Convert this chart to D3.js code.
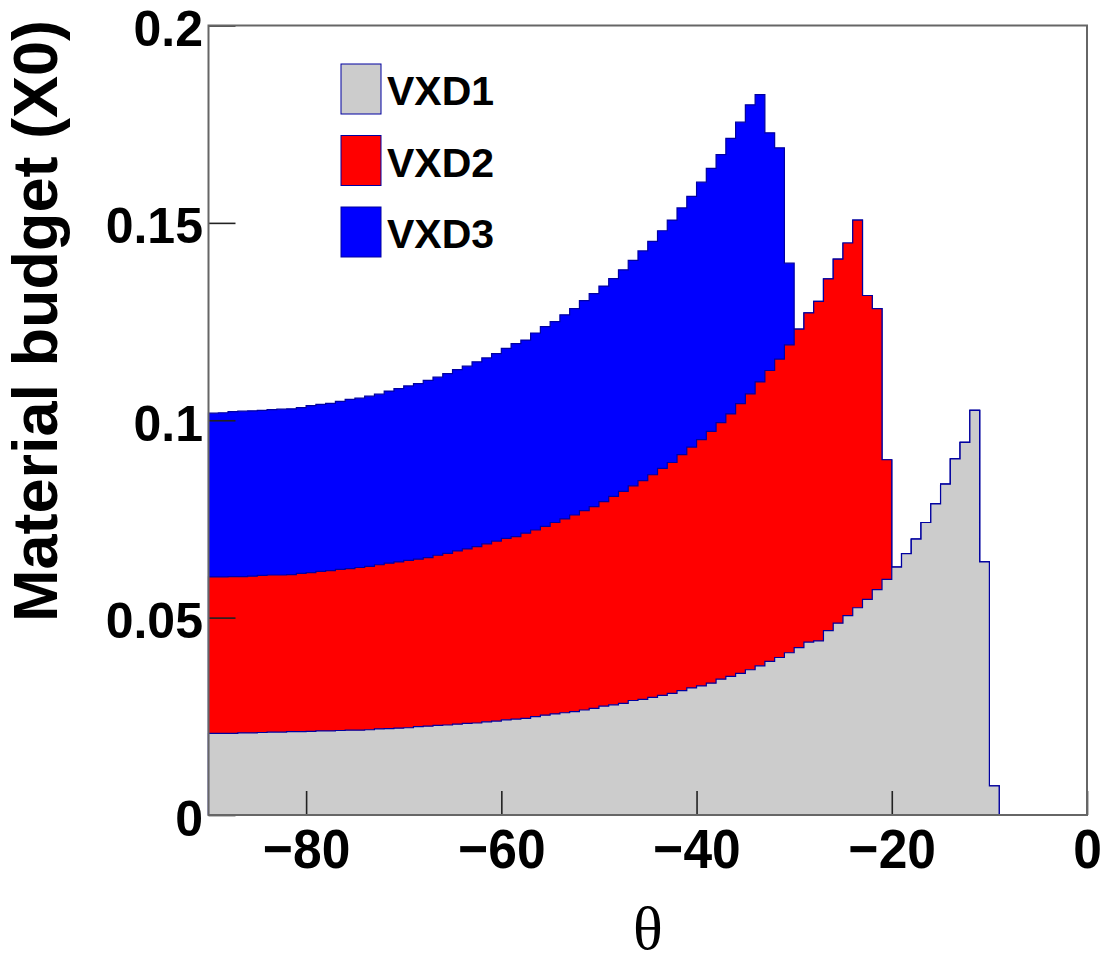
<!DOCTYPE html>
<html>
<head>
<meta charset="utf-8">
<script src="https://cdn.jsdelivr.net/npm/d3@7"></script>
<style>
body { margin: 0; background: #fff; }
svg text { font-family: "Liberation Sans", Arial, sans-serif; font-weight: bold; fill: #000; }
</style>
</head>
<body>
<div id="chart"></div>
<script>
// series names and fill colours (drawn as a stack, VXD1 at the bottom)
var names = ["VXD1", "VXD2", "VXD3"];
var colors = ["#cccccc", "#ff0000", "#0000ff"];

// theta bins: 1 degree wide, low edges -90 ... -1
var thetaMin = -90, thetaMax = 0;
var binLow = d3.range(thetaMin, thetaMax, 1);

// material budget per bin (X0)
var vxd1 = [0.0207,0.0207,0.0207,0.0208,0.0208,0.0209,0.0210,0.0210,0.0211,0.0211,
            0.0212,0.0213,0.0213,0.0214,0.0215,0.0215,0.0216,0.0218,0.0219,0.0220,
            0.0221,0.0224,0.0225,0.0227,0.0228,0.0230,0.0232,0.0233,0.0236,0.0238,
            0.0241,0.0243,0.0245,0.0249,0.0253,0.0256,0.0259,0.0262,0.0266,0.0270,
            0.0276,0.0279,0.0283,0.0290,0.0293,0.0298,0.0303,0.0308,0.0315,0.0322,
            0.0327,0.0334,0.0344,0.0351,0.0359,0.0368,0.0378,0.0389,0.0399,0.0411,
            0.0424,0.0438,0.0441,0.0467,0.0486,0.0505,0.0525,0.0546,0.0571,0.0597,
            0.0628,0.0662,0.0699,0.0741,0.0788,0.0838,0.0902,0.0944,0.1025,0.0641,
            0.0074,0,0,0,0,0,0,0,0,0];
var vxd2 = [0.0396,0.0396,0.0397,0.0396,0.0397,0.0398,0.0398,0.0398,0.0398,0.0401,
            0.0402,0.0404,0.0406,0.0408,0.0409,0.0412,0.0414,0.0416,0.0419,0.0421,
            0.0424,0.0424,0.0427,0.0431,0.0435,0.0439,0.0442,0.0447,0.0451,0.0456,
            0.0460,0.0462,0.0469,0.0473,0.0478,0.0485,0.0491,0.0498,0.0505,0.0511,
            0.0518,0.0528,0.0537,0.0544,0.0554,0.0564,0.0575,0.0585,0.0598,0.0610,
            0.0624,0.0638,0.0650,0.0665,0.0683,0.0699,0.0719,0.0737,0.0756,0.0780,
            0.0807,0.0834,0.0860,0.0891,0.0922,0.0944,0.0982,0.0770,0.0712,0.0303,
            0,0,0,0,0,0,0,0,0,0,
            0,0,0,0,0,0,0,0,0,0];
var vxd3 = [0.0415,0.0416,0.0418,0.0419,0.0419,0.0418,0.0419,0.0420,0.0420,0.0420,
            0.0423,0.0423,0.0424,0.0426,0.0429,0.0429,0.0431,0.0432,0.0436,0.0439,
            0.0442,0.0445,0.0449,0.0451,0.0455,0.0459,0.0463,0.0468,0.0471,0.0475,
            0.0481,0.0489,0.0489,0.0499,0.0506,0.0509,0.0517,0.0523,0.0532,0.0540,
            0.0546,0.0552,0.0561,0.0571,0.0582,0.0591,0.0602,0.0614,0.0625,0.0635,
            0.0652,0.0666,0.0679,0.0698,0.0713,0.0732,0.0728,0.0602,0.0535,0.0207,
            0,0,0,0,0,0,0,0,0,0,
            0,0,0,0,0,0,0,0,0,0,
            0,0,0,0,0,0,0,0,0,0];

// axis ticks
var xMajor = [-80, -60, -40, -20, 0];
var xMinor = d3.range(-85, 0, 5);
var yMajor = [0, 0.05, 0.1, 0.15, 0.2];
var yMinor = d3.range(0, 0.2001, 0.01);

var xTitle = "\u03b8";
var yTitle = "Material budget (X0)";

// ---- layout
var W = 1106, H = 963;
var frame = {left: 208.5, right: 1087, top: 25.5, bottom: 815};
var lineColor = "#0000a0";

var scalex = d3.scaleLinear().domain([thetaMin, thetaMax]).range([frame.left, frame.right]);
var scaley = d3.scaleLinear().domain([0, 0.2]).range([frame.bottom, frame.top]);

var svg = d3.select("#chart").append("svg")
    .attr("width", W)
    .attr("height", H);

var rows = binLow.map(function (b, i) {
    return {low: b, VXD1: vxd1[i], VXD2: vxd2[i], VXD3: vxd3[i]};
});
var stacked = d3.stack().keys(names)(rows);

// histogram outline as step points (cumulative top of each layer)
function stepPoints(layer) {
    var pts = [[thetaMin, 0]];
    layer.forEach(function (d) { pts.push([d.data.low, d[1]]); });
    pts.push([thetaMax, layer[layer.length - 1][1]]);
    pts.push([thetaMax, 0]);
    return pts;
}

var valueline = d3.line()
    .x(function (d) { return scalex(d[0]); })
    .y(function (d) { return scaley(d[1]); })
    .curve(d3.curveStepAfter);

// THStack style: total first, then the lower sums over it
for (var i = stacked.length - 1; i >= 0; i--) {
    svg.append("path")
        .datum(stepPoints(stacked[i]))
        .attr("d", valueline)
        .attr("fill", colors[i])
        .attr("stroke", lineColor)
        .attr("stroke-width", 1.2)
        .attr("stroke-linejoin", "miter");
}

// ---- x axis (ticks point into the frame)
var gx = svg.append("g").attr("transform", "translate(0," + frame.bottom + ")");
gx.call(d3.axisBottom(scalex).tickValues(xMinor).tickSize(-12).tickFormat(""));
gx.call(d3.axisBottom(scalex).tickValues(xMajor).tickSize(-24)
    .tickFormat(function (d) { return d < 0 ? "\u2212" + Math.abs(d) : String(d); }));
gx.selectAll(".domain").remove();
gx.selectAll("line").attr("stroke", "#222").attr("stroke-width", 1.6);
gx.selectAll("text")
    .attr("y", 53)
    .attr("dy", 0)
    .attr("transform", "scale(0.92,1)")
    .style("font-size", "56px")
    .style("font-family", "'Liberation Sans', Arial, sans-serif")
    .style("font-weight", "bold");

// ---- y axis
var gy = svg.append("g").attr("transform", "translate(" + frame.left + ",0)");
gy.call(d3.axisLeft(scaley).tickValues(yMinor).tickSize(-13).tickFormat(""));
gy.call(d3.axisLeft(scaley).tickValues(yMajor).tickSize(-27).tickPadding(5.5)
    .tickFormat(function (d) { return d === 0 ? "0" : String(+d.toFixed(2)); }));
gy.selectAll(".domain").remove();
gy.selectAll("line").attr("stroke", "#222").attr("stroke-width", 1.6);
gy.selectAll("text")
    .attr("dy", "0.4em")
    .style("font-size", "50px")
    .style("font-family", "'Liberation Sans', Arial, sans-serif")
    .style("font-weight", "bold");

// frame
svg.append("rect")
    .attr("x", frame.left)
    .attr("y", frame.top)
    .attr("width", frame.right - frame.left)
    .attr("height", frame.bottom - frame.top)
    .attr("fill", "none")
    .attr("stroke", "#666")
    .attr("stroke-width", 2);

// ---- titles
svg.append("text")
    .attr("transform", "translate(57,20) rotate(-90)")
    .attr("text-anchor", "end")
    .style("font-size", "63px")
    .text(yTitle);

svg.append("text")
    .attr("x", (frame.left + frame.right) / 2)
    .attr("y", 949)
    .attr("text-anchor", "middle")
    .style("font-family", "'Liberation Serif', 'Times New Roman', serif")
    .style("font-weight", "normal")
    .style("font-size", "62px")
    .text(xTitle);

// ---- legend
var legend = svg.append("g").attr("transform", "translate(341,64)");
names.forEach(function (n, i) {
    var row = legend.append("g").attr("transform", "translate(0," + (i * 71.5) + ")");
    row.append("rect")
        .attr("x", 0).attr("y", 0)
        .attr("width", 40).attr("height", 50)
        .attr("fill", colors[i])
        .attr("stroke", lineColor)
        .attr("stroke-width", 1);
    row.append("text")
        .attr("x", 46)
        .attr("y", 41)
        .style("font-size", "41px")
        .text(n);
});
</script>
</body>
</html>
